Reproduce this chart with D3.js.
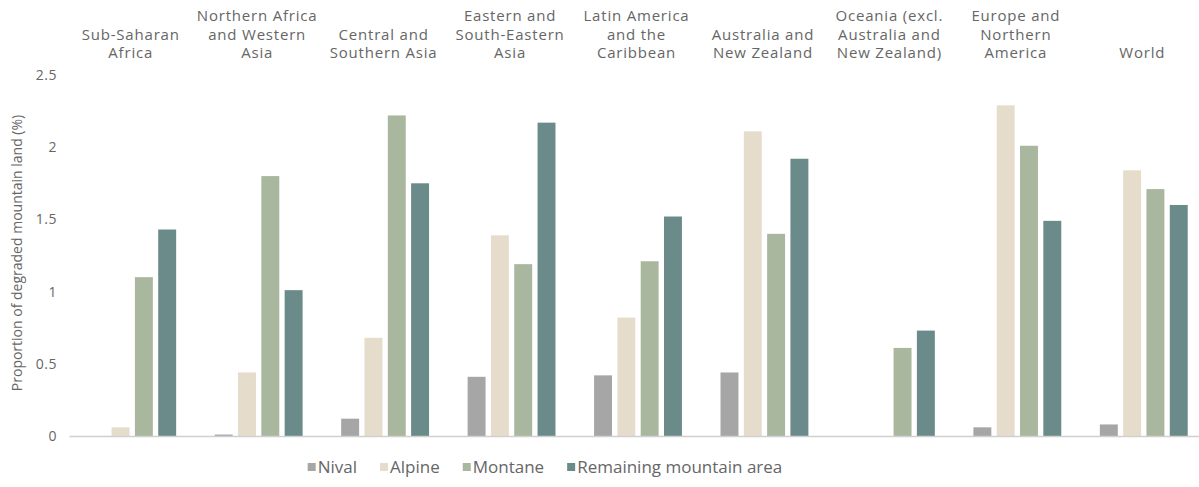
<!DOCTYPE html>
<html>
<head>
<meta charset="utf-8">
<script src="https://cdn.jsdelivr.net/npm/d3@7"></script>
<style>
  body { margin: 0; background: #fff; }
  text { font-family: "Open Sans", "Noto Sans", sans-serif; fill: #666; }
</style>
</head>
<body>
<div id="chart"></div>
<script>
// region labels (line breaks as in the source)
const regions = [
  "Sub-Saharan\nAfrica",
  "Northern Africa\nand Western\nAsia",
  "Central and\nSouthern Asia",
  "Eastern and\nSouth-Eastern\nAsia",
  "Latin America\nand the\nCaribbean",
  "Australia and\nNew Zealand",
  "Oceania (excl.\nAustralia and\nNew Zealand)",
  "Europe and\nNorthern\nAmerica",
  "World"
];
const seriesNames = ["Nival", "Alpine", "Montane", "Remaining mountain area"];
const seriesColors = ["#a6a6a6", "#e6dccb", "#a9b79f", "#6a8b89"];

// values per series, in the order of regions
const nival     = [0,    0.01, 0.12, 0.41, 0.42, 0.44, 0,    0.06, 0.08];
const alpine    = [0.06, 0.44, 0.68, 1.39, 0.82, 2.11, 0,    2.29, 1.84];
const montane   = [1.10, 1.80, 2.22, 1.19, 1.21, 1.40, 0.61, 2.01, 1.71];
const remaining = [1.43, 1.01, 1.75, 2.17, 1.52, 1.92, 0.73, 1.49, 1.60];
const yTicks = [0, 0.5, 1, 1.5, 2, 2.5];

const W = 1199, H = 487;
const valuesBySeries = [nival, alpine, montane, remaining];
const data = regions.map((r, i) => ({
  region: r,
  values: seriesNames.map((s, j) => ({series: s, value: valuesBySeries[j][i]}))
}));

const svg = d3.select("#chart").append("svg")
  .attr("width", W).attr("height", H);

const x0 = d3.scaleBand().domain(regions).range([69, 1207]).paddingInner(0.305).paddingOuter(0.1525);
const x1 = d3.scaleBand().domain(seriesNames).range([0, x0.bandwidth()]).paddingInner(0.23);
const y = d3.scaleLinear().domain([0, 2.5]).range([436, 75]);
const color = d3.scaleOrdinal().domain(seriesNames).range(seriesColors);

// y axis
const yAxisG = svg.append("g")
  .attr("transform", "translate(57,0)")
  .call(d3.axisLeft(y).tickValues(yTicks).tickSize(0).tickPadding(0).tickFormat(d3.format("")));
yAxisG.select(".domain").remove();
yAxisG.selectAll("text")
  .style("font-family", "'Open Sans', sans-serif")
  .style("font-size", "14px").style("letter-spacing", "0.5px").attr("fill", "#666");

svg.append("text")
  .attr("transform", "rotate(-90)")
  .attr("x", -253).attr("y", 22)
  .attr("text-anchor", "middle")
  .style("font-size", "14px")
  .text("Proportion of degraded mountain land (%)");

// bars
const groups = svg.selectAll(".regionG")
  .data(data)
  .join("g")
  .attr("class", "regionG")
  .attr("transform", d => "translate(" + x0(d.region) + ",0)");

groups.selectAll("rect")
  .data(d => d.values)
  .join("rect")
  .attr("x", d => x1(d.series))
  .attr("width", x1.bandwidth())
  .attr("y", d => y(d.value))
  .attr("height", d => y(0) - y(d.value))
  .attr("fill", d => color(d.series));

// baseline
const xAxisG = svg.append("g")
  .attr("transform", "translate(0," + y(0) + ")")
  .call(d3.axisBottom(x0).tickSize(0).tickFormat(""));
xAxisG.select(".domain").attr("stroke", "#d0d0d0").attr("stroke-width", 1.5);

// region labels on top, bottom aligned
const lineH = 18.5;
svg.selectAll(".regionLabel")
  .data(regions)
  .join("text")
  .attr("class", "regionLabel")
  .attr("text-anchor", "middle")
  .style("font-size", "15px")
  .style("letter-spacing", "0.8px")
  .each(function(d) {
    const lines = d.split("\n");
    const cx = x0(d) + x0.bandwidth() / 2 - 1.5;
    d3.select(this).selectAll("tspan")
      .data(lines)
      .join("tspan")
      .attr("x", cx)
      .attr("y", (l, i) => 58 - (lines.length - 1 - i) * lineH)
      .text(l => l);
  });

// legend
const legend = svg.append("g").attr("class", "legend");
let lx = 0;
seriesNames.forEach((s, i) => {
  const item = legend.append("g").attr("transform", "translate(" + lx + ",0)");
  item.append("rect").attr("x", 0).attr("y", -4).attr("width", 8).attr("height", 8)
    .attr("fill", color(s));
  const t = item.append("text").attr("x", 10).attr("y", 6)
    .style("font-size", "17px").text(s);
  lx += 10 + t.node().getComputedTextLength() + 23;
});
const legendW = lx - 23;
legend.attr("transform", "translate(" + (545 - legendW / 2) + ",467)");
</script>
</body>
</html>
